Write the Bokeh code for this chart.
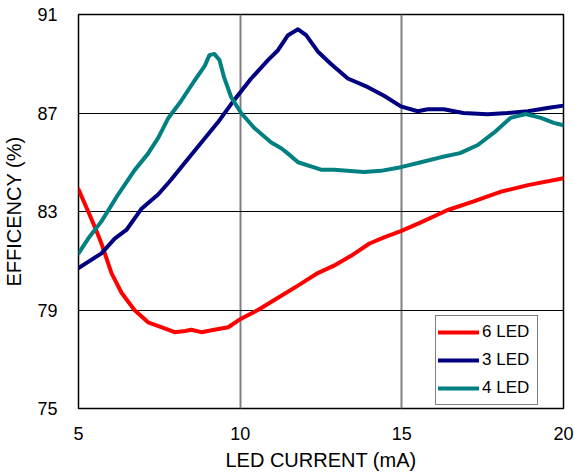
from bokeh.plotting import figure
from bokeh.models import Legend, LegendItem, FixedTicker, Range1d
from bokeh.embed import file_html
from bokeh.resources import INLINE

# ---- data ----
x_ticks = [5, 10, 15, 20]
y_ticks = [75, 79, 83, 87, 91]

series_names = ["6 LED", "3 LED", "4 LED"]
series_colors = ["#FF0000", "#000080", "#008080"]

led6_x = [5.0, 5.3, 5.56, 5.71, 6.02, 6.33, 6.73, 7.15, 7.56, 7.97, 8.3, 8.49, 8.8,
          9.2, 9.63, 9.97, 10.55, 11.17, 11.8, 12.4, 12.9, 13.43, 14.0, 14.45, 14.97,
          15.59, 16.4, 17.2, 18.05, 18.9, 20.0]
led6_y = [83.9, 83.0, 82.2, 81.7, 80.5, 79.7, 79.0, 78.5, 78.3, 78.1, 78.15, 78.2, 78.1,
          78.2, 78.3, 78.6, 79.0, 79.5, 80.0, 80.5, 80.8, 81.2, 81.7, 81.95, 82.2,
          82.56, 83.05, 83.4, 83.8, 84.07, 84.35]

led3_x = [5.0, 5.71, 6.12, 6.48, 6.94, 7.47, 7.87, 8.27, 8.8, 9.3, 9.8, 10.34, 10.86,
          11.17, 11.48, 11.79, 12.04, 12.4, 12.8, 13.33, 13.95, 14.45, 14.97, 15.49,
          15.8, 16.3, 16.9, 17.65, 18.27, 18.9, 19.5, 20.0]
led3_y = [80.7, 81.3, 81.9, 82.25, 83.1, 83.7, 84.3, 84.95, 85.8, 86.6, 87.5, 88.4, 89.15,
          89.55, 90.16, 90.4, 90.16, 89.5, 89.0, 88.4, 88.05, 87.7, 87.27, 87.07,
          87.15, 87.15, 87.0, 86.95, 87.0, 87.07, 87.2, 87.3]

led4_x = [5.0, 5.3, 5.71, 6.23, 6.73, 7.15, 7.47, 7.78, 8.18, 8.58, 8.9, 9.05, 9.2, 9.36,
          9.5, 9.72, 10.03, 10.43, 10.96, 11.27, 11.48, 11.79, 12.5, 12.9, 13.83, 14.35,
          14.97, 15.59, 16.2, 16.8, 17.35, 17.85, 18.36, 18.83, 19.3, 19.7, 20.0]
led4_y = [81.3, 81.9, 82.6, 83.7, 84.67, 85.35, 86.0, 86.8, 87.5, 88.3, 88.9, 89.35, 89.4,
          89.15, 88.46, 87.65, 87.0, 86.4, 85.8, 85.57, 85.35, 85.0, 84.7, 84.7, 84.6,
          84.65, 84.8, 85.0, 85.2, 85.37, 85.7, 86.2, 86.8, 86.96, 86.8, 86.6, 86.5]

FONT = "Liberation Sans"

p = figure(width=575, height=476, output_backend="svg", toolbar_location=None,
           x_range=Range1d(5, 20), y_range=Range1d(75, 91),
           min_border_left=77, min_border_top=14, min_border_right=12, min_border_bottom=68)

p.outline_line_color = "black"
p.outline_line_width = 1.5
p.background_fill_color = "white"
p.border_fill_color = "white"

# grids
p.xgrid.ticker = FixedTicker(ticks=x_ticks)
p.ygrid.ticker = FixedTicker(ticks=y_ticks)
p.xgrid.grid_line_color = "#808080"
p.xgrid.grid_line_width = 2
p.ygrid.grid_line_color = "black"
p.ygrid.grid_line_width = 1

# axes
for ax in (p.xaxis[0], p.yaxis[0]):
    ax.axis_line_color = None
    ax.major_tick_line_color = None
    ax.minor_tick_line_color = None
    ax.major_tick_out = 0
    ax.major_tick_in = 0
    ax.major_label_text_font = FONT
    ax.major_label_text_font_size = "18px"
    ax.major_label_text_color = "black"
    ax.axis_label_text_font = FONT
    ax.axis_label_text_font_size = "20px"
    ax.axis_label_text_font_style = "normal"
    ax.axis_label_text_color = "black"

p.xaxis.ticker = FixedTicker(ticks=x_ticks)
p.yaxis.ticker = FixedTicker(ticks=y_ticks)
p.xaxis.axis_label = "LED CURRENT (mA)"
p.yaxis.axis_label = "EFFICENCY (%)"
p.xaxis.major_label_standoff = 18
p.xaxis.axis_label_standoff = 6
p.yaxis.major_label_standoff = 21
p.yaxis.axis_label_standoff = 9

renderers = []
for xs, ys, c in zip([led6_x, led3_x, led4_x], [led6_y, led3_y, led4_y], series_colors):
    r = p.line(xs, ys, line_color=c, line_width=4, line_join="round", line_cap="round")
    renderers.append(r)

legend = Legend(items=[LegendItem(label=n, renderers=[r]) for n, r in zip(series_names, renderers)],
                location=(357, 3))
legend.border_line_color = "black"
legend.border_line_width = 1
legend.background_fill_color = "white"
legend.background_fill_alpha = 1
legend.padding = 2
legend.margin = 0
legend.spacing = 0
legend.glyph_width = 41
legend.glyph_height = 28
legend.label_height = 28
legend.label_width = 53
legend.label_standoff = 3
legend.label_text_font = FONT
legend.label_text_font_size = "17px"
legend.label_text_color = "black"
p.add_layout(legend, "center")

open("out.html", "w").write(file_html(p, INLINE))
